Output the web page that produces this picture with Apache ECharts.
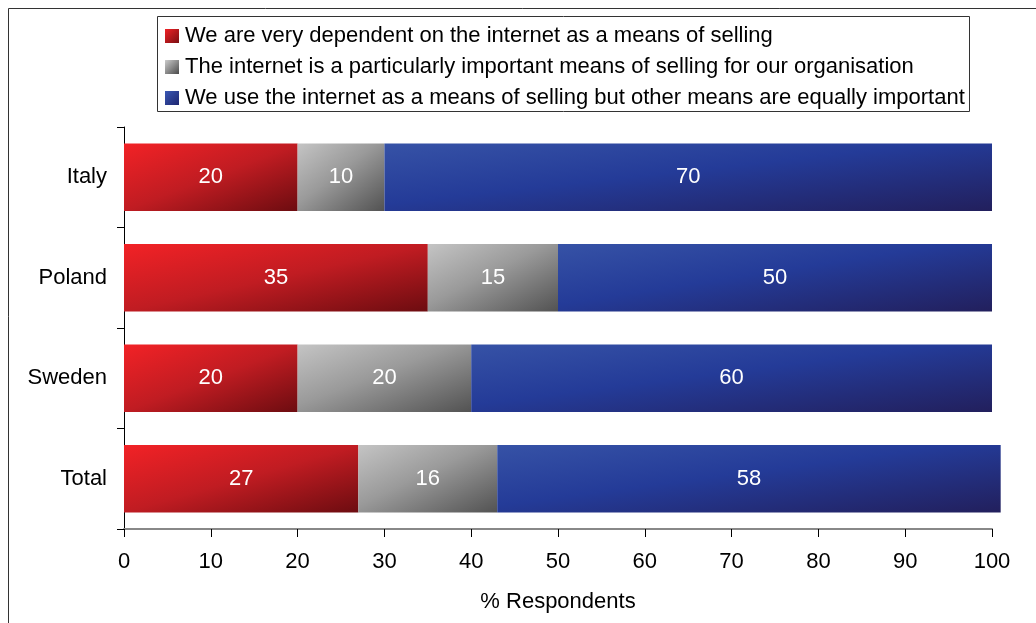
<!DOCTYPE html>
<html><head><meta charset="utf-8">
<script src="https://cdn.jsdelivr.net/npm/echarts@6/dist/echarts.min.js"></script>
<style>html,body{margin:0;padding:0;background:#fff}#c{width:1036px;height:623px}</style>
</head><body><div id="c"></div>
<script>
const categories = ['Total', 'Sweden', 'Poland', 'Italy'];
const seriesNames = [
  'We are very dependent on the internet as a means of selling',
  'The internet is a particularly important means of selling for our organisation',
  'We use the internet as a means of selling but other means are equally important'
];
const dependent = [27, 20, 35, 20];
const important = [16, 20, 15, 10];
const equal = [58, 60, 50, 70];
const xTicks = [0, 10, 20, 30, 40, 50, 60, 70, 80, 90, 100];

const stops = [
  [[0, '#f22226'], [0.5, '#c01c22'], [1, '#6c0c10']],
  [[0, '#c4c4c4'], [0.45, '#9a9a9a'], [1, '#525252']],
  [[0, '#3652a6'], [0.45, '#243b98'], [1, '#221f5c']]
];
const legendColors = [
  new echarts.graphic.LinearGradient(0, 0, 1, 1, [{offset: 0, color: '#f02226'}, {offset: 1, color: '#7a0e12'}]),
  new echarts.graphic.LinearGradient(0, 0, 1, 1, [{offset: 0, color: '#cccccc'}, {offset: 1, color: '#4a4a4a'}]),
  new echarts.graphic.LinearGradient(0, 0, 1, 1, [{offset: 0, color: '#3a58b4'}, {offset: 1, color: '#1e2670'}])
];
// gradient whose iso-lines follow the bar's anti-diagonal (like office charts)
const PX_PER_UNIT = 8.68, BAR_H = 67;
function barGrad(v, s) {
  const W = Math.max(1, v * PX_PER_UNIT), H = BAR_H;
  const d = H * H + W * W;
  return new echarts.graphic.LinearGradient(0, 0, 2 * H * H / d, 2 * W * W / d,
    s.map(([o, c]) => ({offset: o, color: c})));
}
const data = [dependent, important, equal];

const chart = echarts.init(document.getElementById('c'));
chart.setOption({
  animation: false,
  textStyle: {fontFamily: 'Liberation Sans, Arial, sans-serif'},
  graphic: [
    {type: 'rect', shape: {x: 8.5, y: 8.5, width: 1100, height: 700}, style: {fill: 'none', stroke: '#333', lineWidth: 1}, silent: true},
    {type: 'rect', shape: {x: 157.5, y: 16.5, width: 812, height: 95}, style: {fill: 'none', stroke: '#333', lineWidth: 1}, silent: true}
  ],
  legend: {
    orient: 'vertical', left: 160, top: 20, itemGap: 9, itemWidth: 14, itemHeight: 14,
    icon: 'rect', textStyle: {fontSize: 22, lineHeight: 22, color: '#000', padding: [0, 0, 0, 1]},
    data: seriesNames.map((n, i) => ({name: n, itemStyle: {color: legendColors[i]}}))
  },
  grid: {left: 124, right: 44, top: 127, bottom: 94},
  xAxis: {
    type: 'value', min: 0, max: 100, interval: 10,
    name: '% Respondents', nameLocation: 'middle', nameGap: 62,
    nameTextStyle: {fontSize: 22, color: '#000'},
    axisLine: {show: true, lineStyle: {color: '#888', width: 2}},
    axisTick: {show: true, length: 8, lineStyle: {color: '#000'}},
    axisLabel: {fontSize: 22, color: '#000', margin: 22, formatter: v => xTicks.includes(v) ? String(v) : ''},
    splitLine: {show: false}
  },
  yAxis: {
    type: 'category', data: categories,
    axisLine: {show: true, lineStyle: {color: '#000', width: 1}},
    axisTick: {show: true, length: 7, inside: false, lineStyle: {color: '#000'}},
    axisLabel: {fontSize: 22, color: '#000', margin: 17}
  },
  series: data.map((d, i) => ({
    name: seriesNames[i], type: 'bar', stack: 'a', barWidth: '67%', clip: false,
    data: d.map(v => ({value: v, itemStyle: {color: barGrad(v, stops[i])}})),
    label: {show: true, position: 'inside', color: '#fff', fontSize: 22}
  }))
});
</script></body></html>
